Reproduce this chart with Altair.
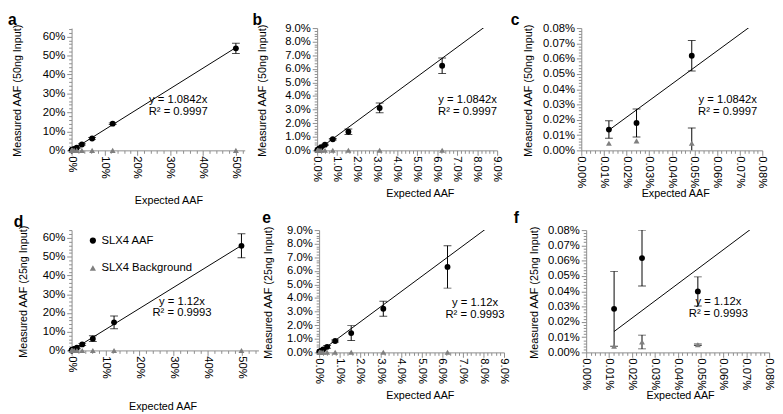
import altair as alt
import pandas as pd

FONT = "Liberation Sans"

# ---------------- data ----------------
expected = [0.5, 0.125, 0.0625, 0.03125, 0.015625, 0.0078125, 0.00390625,
            0.001953125, 0.0009765625, 0.00048828125, 0.000244140625, 0.0001220703125]
series_names = ["SLX4 AAF", "SLX4 Background"]

# 50 ng input
aaf_50ng = [0.538, 0.141, 0.0623, 0.0312, 0.0137, 0.0082, 0.0042, 0.0023, 0.00115, 0.000619, 0.000179, 0.000136]
aaf_50ng_err = [0.027, 0.004, 0.0057, 0.0036, 0.0021, 0.0006, 0.0004, 0.0002, 0.00015, 0.0001, 0.000092, 0.000057]
bg_50ng = [0.00005, 0.00005, 0.00005, 0.00005, 0.00005, 0.00005, 0.00005, 0.00005, 0.00005, 0.000047, 0.000062, 0.000047]
bg_50ng_err = [0, 0, 0, 0, 0, 0, 0, 0, 0, 0.0001, 0, 0]

# 25 ng input
aaf_25ng = [0.558, 0.150, 0.0629, 0.0321, 0.0142, 0.0084, 0.0041, 0.0021, 0.0010, 0.000399, 0.000617, 0.000285]
aaf_25ng_err = [0.064, 0.034, 0.0156, 0.0055, 0.0055, 0.0007, 0.001, 0.0004, 0.0002, 0.000095, 0.000183, 0.000245]
bg_25ng = [0.00005, 0.00005, 0.00005, 0.00005, 0.00005, 0.00005, 0.00005, 0.00005, 0.00005, 0.00005, 0.000068, 0.00004]
bg_25ng_err = [0, 0, 0, 0, 0, 0, 0, 0, 0, 0.000005, 0.000045, 0]

# trend lines
slope_50ng, r2_50ng = 1.0842, 0.9997
slope_25ng, r2_25ng = 1.12, 0.9993

# x tick labels for the three zoom levels
x_labels_wide = ["0%", "10%", "20%", "30%", "40%", "50%"]
x_labels_mid = ["0.0%", "1.0%", "2.0%", "3.0%", "4.0%", "5.0%", "6.0%", "7.0%", "8.0%", "9.0%"]
x_labels_low = ["0.00%", "0.01%", "0.02%", "0.03%", "0.04%", "0.05%", "0.06%", "0.07%", "0.08%"]

# annotation anchor points (data units) per panel: [x, y_eq, y_r2]
ann_pos = {
    "a": [0.3245, 0.264, 0.202],
    "b": [0.0752, 0.0372, 0.0281],
    "c": [0.000647, 0.000331, 0.00025],
    "d": [0.325, 0.2557, 0.198],
    "e": [0.0759, 0.036, 0.0274],
    "f": [0.000578, 0.000331, 0.00025],
}


def long_df(aaf, aaf_err, bg, bg_err):
    rows = []
    for name, vals, errs in ((series_names[0], aaf, aaf_err), (series_names[1], bg, bg_err)):
        for x, v, e in zip(expected, vals, errs):
            rows.append({"expected": x, "value": v, "lo": v - e, "hi": v + e, "err": e, "series": name})
    return pd.DataFrame(rows)


def trend_df(slope):
    xs = [min(expected), max(expected)]
    return pd.DataFrame({"expected": xs, "value": [slope * x for x in xs]})


data_50 = long_df(aaf_50ng, aaf_50ng_err, bg_50ng, bg_50ng_err)
data_25 = long_df(aaf_25ng, aaf_25ng_err, bg_25ng, bg_25ng_err)
trend_50 = trend_df(slope_50ng)
trend_25 = trend_df(slope_25ng)


def tick_values(stop, step):
    n = int(stop / step + 1e-6)
    return [round(i * step, 12) for i in range(n + 1)]


def major_test(major):
    return f"abs(datum.value / {major} - round(datum.value / {major})) < 1e-6"


def panel(data, trend, slope, r2, letter, letter_dx, letter_dy, xmax, ymax, xmajor, ymajor,
          fmt, xlabels, width, height, ytitle, ytitle_x, xtitle_x, xtitle_y, legend=False):
    xs = alt.Scale(domain=[0, xmax], nice=False, zero=True)
    ys = alt.Scale(domain=[0, ymax], nice=False, zero=True)
    xaxis = alt.Axis(
        values=tick_values(xmax, xmajor / 5), labels=False,
        tickSize={"condition": {"test": major_test(xmajor), "value": 5}, "value": 3},
        title="Expected AAF", titleX=xtitle_x, titleY=xtitle_y,
        titleBaseline="middle", titleAlign="center", grid=False,
    )
    yaxis = alt.Axis(
        values=tick_values(ymax, ymajor / 5), format=fmt,
        labelExpr=f"({major_test(ymajor)}) ? datum.label : ''",
        labelOverlap=False, labelFlush=False, labelPadding=2,
        tickSize={"condition": {"test": major_test(ymajor), "value": 5}, "value": 3},
        title=ytitle, titleX=ytitle_x, titleY=height / 2 + 1,
        titleBaseline="middle", titleAlign="center", titleAngle=270, grid=False,
    )
    X = alt.X("expected:Q", scale=xs, axis=xaxis)
    inx = f"datum.expected <= {xmax}"

    line = alt.Chart(trend).mark_line(color="black", strokeWidth=1, clip=True).encode(
        x=X, y=alt.Y("value:Q", scale=ys, axis=yaxis))
    base = alt.Chart(data).transform_filter(f"{inx} && datum.err > 0")
    bars = base.mark_rule(color="black", strokeWidth=1, clip=True).encode(
        x=X, y=alt.Y("lo:Q", scale=ys, axis=yaxis), y2="hi:Q")
    cap_lo = base.mark_tick(color="black", orient="horizontal", size=8, thickness=1, clip=True).encode(
        x=X, y=alt.Y("lo:Q", scale=ys, axis=yaxis))
    cap_hi = base.mark_tick(color="black", orient="horizontal", size=8, thickness=1, clip=True).encode(
        x=X, y=alt.Y("hi:Q", scale=ys, axis=yaxis))
    if legend:
        leg = alt.Legend(orient="none", legendX=16, legendY=5, title=None, labelFont=FONT,
                         labelFontSize=11.5, labelColor="black", symbolSize=40, rowPadding=15,
                         labelOffset=3, padding=0, symbolStrokeWidth=0)
    else:
        leg = None
    pts = alt.Chart(data).transform_filter(f"{inx} && datum.value <= {ymax}").mark_point(
        filled=True, opacity=1, size=36).encode(
        x=X, y=alt.Y("value:Q", scale=ys, axis=yaxis),
        color=alt.Color("series:N", scale=alt.Scale(domain=series_names, range=["black", "#7f7f7f"]), legend=leg),
        shape=alt.Shape("series:N", scale=alt.Scale(domain=series_names, range=["circle", "triangle-up"]), legend=leg),
        order=alt.Order("series:N", sort="ascending"),
    )
    lab_df = pd.DataFrame({"v": tick_values(xmax, xmajor)[: len(xlabels)], "label": xlabels})
    xlab = alt.Chart(lab_df).mark_text(
        font=FONT, fontSize=11.5, color="black", align="left", baseline="middle").encode(
        x=alt.X("v:Q", scale=xs, axis=xaxis), y=alt.value(height + 6), text="label:N",
        angle=alt.value(90))
    p = ann_pos[letter]
    ann_df = pd.DataFrame({
        "x": [p[0], p[0]], "y": [p[1], p[2]],
        "text": [f"y = {slope}x", f"R² = {r2:.4f}"],
    })
    ann = alt.Chart(ann_df).mark_text(font=FONT, fontSize=11.5, color="black", align="center",
                                      baseline="middle").encode(
        x=alt.X("x:Q", scale=xs, axis=xaxis), y=alt.Y("y:Q", scale=ys, axis=yaxis), text="text:N")
    let = alt.Chart(pd.DataFrame({"letter": [letter]})).mark_text(
        font=FONT, fontSize=16, fontWeight="bold", color="black", align="left", baseline="top").encode(
        x=alt.value(letter_dx), y=alt.value(letter_dy), text="letter:N")
    return alt.layer(line, bars, cap_lo, cap_hi, pts, xlab, ann, let).properties(width=width, height=height)


pa = panel(data_50, trend_50, slope_50ng, r2_50ng, "a", -65, -16, 0.527, 0.645, 0.1, 0.1, ".0%", x_labels_wide,
           177, 125, "Measured AAF (50ng Input)", -55, 99, 51)
pb = panel(data_50, trend_50, slope_50ng, r2_50ng, "b", -66, -16, 0.09, 0.09, 0.01, 0.01, ".1%", x_labels_mid,
           184, 125, "Measured AAF (50ng Input)", -56, 105, 44)
pc = panel(data_50, trend_50, slope_50ng, r2_50ng, "c", -72, -16, 0.0008, 0.0008, 0.0001, 0.0001, ".2%", x_labels_low,
           185, 125, "Measured AAF (50ng Input)", -54, 96, 44)
pd_ = panel(data_25, trend_25, slope_25ng, r2_25ng, "d", -59, -16, 0.55, 0.642, 0.1, 0.1, ".0%", x_labels_wide,
            191, 123, "Measured AAF (25ng Input)", -49, 93, 57, legend=True)
pe = panel(data_25, trend_25, slope_25ng, r2_25ng, "e", -58, -20, 0.09, 0.09, 0.01, 0.01, ".1%", x_labels_mid,
           189, 125, "Measured AAF (25ng Input)", -52, 103, 44)
pf = panel(data_25, trend_25, slope_25ng, r2_25ng, "f", -74, -20, 0.0008, 0.0008, 0.0001, 0.0001, ".2%", x_labels_low,
           187, 125, "Measured AAF (25ng Input)", -53, 96, 44)

indep = dict(x="independent", y="independent", color="independent", shape="independent")
row1 = alt.hconcat(pa, pb, pc, spacing=8).resolve_scale(**indep).resolve_legend(color="independent", shape="independent")
row2 = alt.hconcat(pd_, pe, pf, spacing=4).resolve_scale(**indep).resolve_legend(color="independent", shape="independent")

chart = (
    alt.vconcat(row1, row2, spacing=5.5)
    .resolve_scale(**indep)
    .resolve_legend(color="independent", shape="independent")
    .properties(padding=0, background="white")
    .configure_view(stroke=None)
    .configure_axis(
        domainColor="#8c8c8c", tickColor="#8c8c8c", domainWidth=1, tickWidth=1,
        labelColor="black", titleColor="black", labelFont=FONT, titleFont=FONT,
        labelFontSize=11.5, titleFontSize=11, titleFontWeight="normal",
    )
)

chart.save("out.html", embed_options={"renderer": "svg", "actions": False})
